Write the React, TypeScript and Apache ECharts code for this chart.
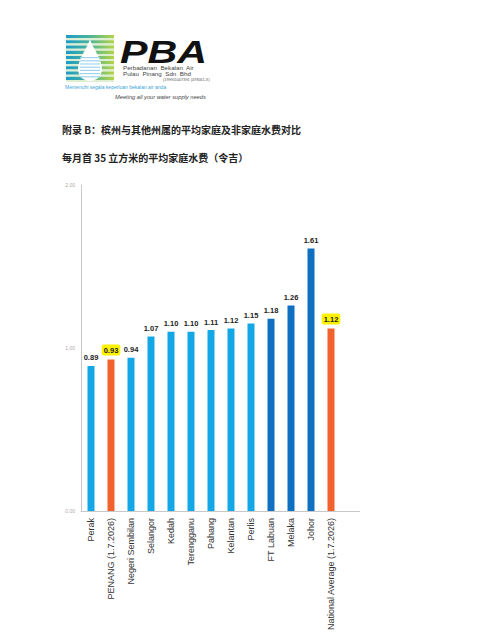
import React, { useEffect, useRef } from "react";
import * as echarts from "echarts";

const categories = [
  "Perak",
  "PENANG (1.7.2026)",
  "Negeri Sembilan",
  "Selangor",
  "Kedah",
  "Terengganu",
  "Pahang",
  "Kelantan",
  "Perlis",
  "FT Labuan",
  "Melaka",
  "Johor",
  "National Average (1.7.2026)",
];
const tariffs = [0.89, 0.93, 0.94, 1.07, 1.1, 1.1, 1.11, 1.12, 1.15, 1.18, 1.26, 1.61, 1.12];
const groups = [
  "state", "highlight", "state", "state", "state", "state", "state",
  "state", "state", "federal", "federal", "federal", "highlight",
];
const yTicks = [0, 1, 2];

const title1 = "附录 B：槟州与其他州属的平均家庭及非家庭水费对比";
const title2 = "每月首 35 立方米的平均家庭水费（令吉）";

const groupColor: Record<string, string> = {
  state: "#14A7E6",
  federal: "#0F6FC0",
  highlight: "#F2622E",
};

const dropPath =
  "M12 0 C14 8 24 20 24 30 C24 37 18.6 42 12 42 C5.4 42 0 37 0 30 C0 20 10 8 12 0 Z";

export default function App() {
  const ref = useRef<HTMLDivElement>(null);
  useEffect(() => {
    if (!ref.current) return;
    echarts.graphic.registerShape("drop", echarts.graphic.extendPath(dropPath, {}) as any);
    const chart = echarts.init(ref.current, undefined, { renderer: "svg" });

    const stripes: any[] = [];
    const lx = 66, ly = 35, lw = 48, lh = 47;
    const n = 9;
    const sh = lh / n;
    for (let i = 0; i < n; i++) {
      stripes.push({
        type: "rect",
        shape: { x: lx, y: ly + i * sh, width: lw, height: sh * 0.62 },
        style: {
          fill: new echarts.graphic.LinearGradient(0, 0, 1, 0, [
            { offset: 0, color: "#1E9CC8" },
            { offset: 0.5, color: "#4DB39A" },
            { offset: 1, color: "#B5D445" },
          ]),
        },
      });
      stripes.push({
        type: "rect",
        shape: { x: lx, y: ly + i * sh + sh * 0.62, width: lw, height: sh * 0.38 },
        style: { fill: "#DDEFD0" },
      });
    }
    const dropLines: any[] = [];
    for (let i = 0; i < 7; i++) {
      dropLines.push({
        type: "rect",
        shape: { x: 80, y: 57 + i * 3.2, width: 20, height: 1.2 },
        style: { fill: "#9FD3EE" },
      });
    }

    const smallFont = "'Liberation Sans', Arial, sans-serif";

    const option: any = {
      animation: false,
      backgroundColor: "#ffffff",
      grid: { left: 81, right: 159, top: 185, bottom: 126, containLabel: false },
      xAxis: {
        type: "category",
        data: categories,
        axisLine: { show: true, lineStyle: { color: "#c8c8c8", width: 1 } },
        axisTick: { show: false },
        axisLabel: {
          rotate: 90,
          interval: 0,
          fontSize: 9,
          color: "#333",
          fontFamily: "Liberation Sans, Arial, sans-serif",
          margin: 7,
        },
      },
      yAxis: {
        type: "value",
        min: yTicks[0],
        max: yTicks[yTicks.length - 1],
        interval: 1,
        axisLine: { show: true, lineStyle: { color: "#c8c8c8", width: 1 } },
        axisTick: { show: false },
        splitLine: { show: false },
        axisLabel: {
          fontSize: 5,
          color: "#aaa",
          margin: 6,
          formatter: (v: number) => v.toFixed(2),
        },
      },
      series: [
        {
          type: "bar",
          barWidth: 7,
          data: tariffs.map((v, i) => {
            const hl = groups[i] === "highlight";
            return {
              value: v,
              itemStyle: { color: groupColor[groups[i]] },
              label: hl
                ? { backgroundColor: "#FFF200", padding: [2, 2, 1, 2], borderRadius: 2 }
                : undefined,
            };
          }),
          label: {
            show: true,
            position: "top",
            distance: 4,
            fontSize: 7.5,
            fontWeight: "bold",
            color: "#222",
            fontFamily: "Liberation Sans, Arial, sans-serif",
            formatter: (p: any) => Number(p.value).toFixed(2),
          },
        },
      ],
      graphic: [
        {
          type: "line",
          shape: { x1: 341, y1: 511.5, x2: 360, y2: 511.5 },
          style: { stroke: "#c8c8c8", lineWidth: 1 },
        },
        ...stripes,
        {
          type: "drop",
          x: 78,
          y: 39,
          scaleX: 1,
          scaleY: 1,
          style: { fill: "#ffffff" },
        },
        ...dropLines,
        {
          type: "text",
          x: 120,
          y: 37,
          scaleX: 1.33,
          style: {
            text: "PBA",
            font: "italic 900 31px 'Liberation Sans', Arial, sans-serif",
            fill: "#111",
          },
        },
        {
          type: "text",
          x: 123,
          y: 65.5,
          scaleX: 1.25,
          style: {
            text: "Perbadanan  Bekalan  Air",
            font: `5px ${smallFont}`,
            fill: "#444",
          },
        },
        {
          type: "text",
          x: 123,
          y: 71.5,
          scaleX: 1.25,
          style: {
            text: "Pulau  Pinang  Sdn  Bhd",
            font: `5px ${smallFont}`,
            fill: "#444",
          },
        },
        {
          type: "text",
          x: 163,
          y: 77.5,
          style: {
            text: "(199901007391 (478561-X)",
            font: `3.8px ${smallFont}`,
            fill: "#555",
          },
        },
        {
          type: "text",
          x: 65,
          y: 84,
          style: {
            text: "Memenuhi segala keperluan bekalan air anda",
            font: `5px ${smallFont}`,
            fill: "#3AA6D8",
          },
        },
        {
          type: "text",
          x: 115,
          y: 93.5,
          style: {
            text: "Meeting all your water supply needs",
            font: `italic 5.7px ${smallFont}`,
            fill: "#444",
          },
        },
        {
          type: "text",
          x: 62,
          y: 124,
          style: {
            text: title1,
            font: "bold 10px 'Noto Sans CJK SC', sans-serif",
            fill: "#222",
          },
        },
        {
          type: "text",
          x: 62,
          y: 152,
          style: {
            text: title2,
            font: "bold 10px 'Noto Sans CJK SC', sans-serif",
            fill: "#222",
          },
        },
      ],
    };
    chart.setOption(option);
    return () => chart.dispose();
  }, []);
  return (
    <div
      ref={ref}
      style={{ position: "fixed", left: 0, top: 0, width: 500, height: 637, background: "#fff" }}
    />
  );
}
